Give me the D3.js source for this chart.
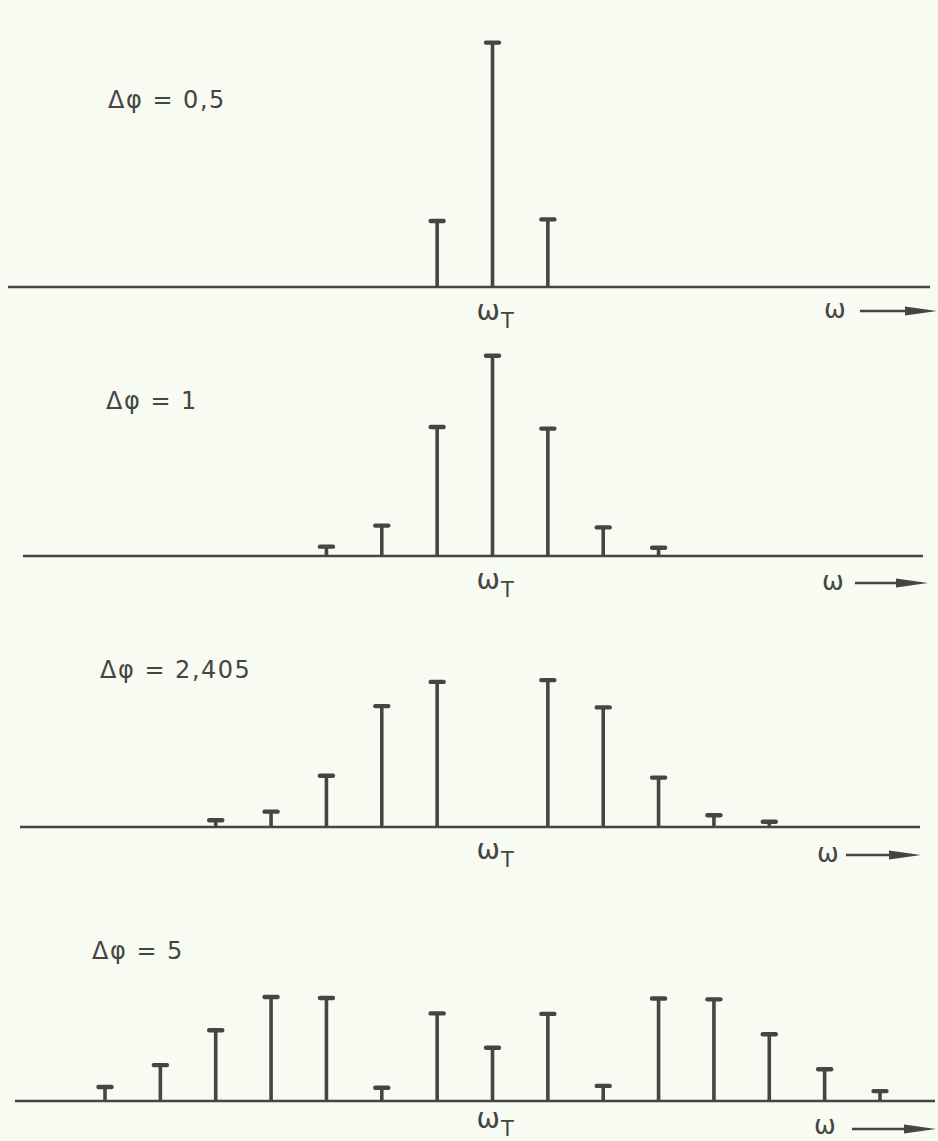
<!DOCTYPE html>
<html>
<head>
<meta charset="utf-8">
<script src="https://cdn.jsdelivr.net/npm/d3@7"></script>
<style>
  html, body { margin: 0; padding: 0; background: #f7fbf1; }
  svg { display: block; }
</style>
</head>
<body>
<svg id="chart" width="938" height="1141"></svg>
<script>
// Spectral line amplitudes of a phase-modulated carrier for four modulation indices.
// Orders are sideband numbers n relative to the carrier ω_T; amplitudes are |J_n(Δφ)|.
const panelLabels = ["Δφ = 0,5", "Δφ = 1", "Δφ = 2,405", "Δφ = 5"];

const ordersA = [-1, 0, 1];
const amplitudesA = [0.254, 0.94, 0.26];

const ordersB = [-3, -2, -1, 0, 1, 2, 3];
const amplitudesB = [0.036, 0.117, 0.496, 0.77, 0.49, 0.11, 0.032];

const ordersC = [-5, -4, -3, -2, -1, 0, 1, 2, 3, 4, 5];
const amplitudesC = [0.026, 0.059, 0.197, 0.465, 0.558, 0, 0.565, 0.46, 0.19, 0.045, 0.02];

const ordersD = [-7, -6, -5, -4, -3, -2, -1, 0, 1, 2, 3, 4, 5, 6, 7];
const amplitudesD = [0.054, 0.138, 0.272, 0.40, 0.396, 0.051, 0.337, 0.205, 0.335, 0.058, 0.394, 0.391, 0.257, 0.122, 0.038];

const carrierLabel = "ω";
const carrierSub = "T";
const axisLabel = "ω";

const ink = "#454543";

// Per-panel layout: baseline position, axis extent, label placement
const panels = [
  { orders: ordersA, amps: amplitudesA, base: 287, x0: 8,  x1: 930, labelX: 108, labelY: 108, wT: 320, wX: 824, wY: 318, arrow: [860, 937, 311] },
  { orders: ordersB, amps: amplitudesB, base: 556, x0: 23, x1: 923, labelX: 106, labelY: 409, wT: 589, wX: 822, wY: 590, arrow: [855, 928, 583] },
  { orders: ordersC, amps: amplitudesC, base: 827, x0: 20, x1: 920, labelX: 100, labelY: 678, wT: 859, wX: 817, wY: 862, arrow: [846, 921, 855] },
  { orders: ordersD, amps: amplitudesD, base: 1101, x0: 15, x1: 935, labelX: 92, labelY: 959, wT: 1128, wX: 814, wY: 1134, arrow: [852, 936, 1129] }
];

const svg = d3.select("#chart");

svg.append("rect")
  .attr("width", 938).attr("height", 1141)
  .attr("fill", "#f7fbf1");

// Sideband spacing is the same in every panel
const x = d3.scaleLinear().domain([-7, 7]).range([105, 880]);

panels.forEach((p, i) => {
  const y = d3.scaleLinear().domain([0, 1]).range([p.base, p.base - 260]);
  const g = svg.append("g");

  // Frequency axis
  g.append("line")
    .attr("x1", p.x0).attr("x2", p.x1)
    .attr("y1", y(0)).attr("y2", y(0))
    .attr("stroke", ink).attr("stroke-width", 2.5);

  const lines = p.orders.map((n, k) => ({ n, a: p.amps[k] })).filter(d => d.a > 0);

  // Stems
  g.selectAll("line.stem").data(lines).join("line")
    .attr("class", "stem")
    .attr("x1", d => x(d.n)).attr("x2", d => x(d.n))
    .attr("y1", y(0)).attr("y2", d => y(d.a))
    .attr("stroke", ink).attr("stroke-width", 3.6);

  // Caps
  g.selectAll("line.cap").data(lines).join("line")
    .attr("class", "cap")
    .attr("x1", d => x(d.n) - 6.5).attr("x2", d => x(d.n) + 6.5)
    .attr("y1", d => y(d.a)).attr("y2", d => y(d.a))
    .attr("stroke", ink).attr("stroke-width", 4.4)
    .attr("stroke-linecap", "round");

  // Modulation index label
  g.append("text")
    .attr("x", p.labelX).attr("y", p.labelY)
    .attr("font-family", "DejaVu Sans, sans-serif")
    .attr("font-size", 24)
    .attr("letter-spacing", 1.5)
    .attr("fill", ink)
    .text(panelLabels[i]);

  // Carrier label under the centre line
  const wt = g.append("text")
    .attr("x", x(0) - 16).attr("y", p.wT)
    .attr("font-family", "DejaVu Sans, sans-serif")
    .attr("font-size", 28)
    .attr("fill", ink);
  wt.append("tspan").text(carrierLabel);
  wt.append("tspan")
    .attr("dy", 8).attr("dx", 1)
    .attr("font-size", 21)
    .text(carrierSub);

  // Frequency direction: ω with arrow
  g.append("text")
    .attr("x", p.wX).attr("y", p.wY)
    .attr("font-family", "DejaVu Sans, sans-serif")
    .attr("font-size", 26)
    .attr("fill", ink)
    .text(axisLabel);

  const [a0, a1, ay] = p.arrow;
  g.append("line")
    .attr("x1", a0).attr("x2", a1 - 20)
    .attr("y1", ay).attr("y2", ay)
    .attr("stroke", ink).attr("stroke-width", 2.4);
  g.append("path")
    .attr("d", `M${a1 - 32},${ay - 4.5} L${a1},${ay} L${a1 - 32},${ay + 4.5} Z`)
    .attr("fill", ink);
});
</script>
</body>
</html>
